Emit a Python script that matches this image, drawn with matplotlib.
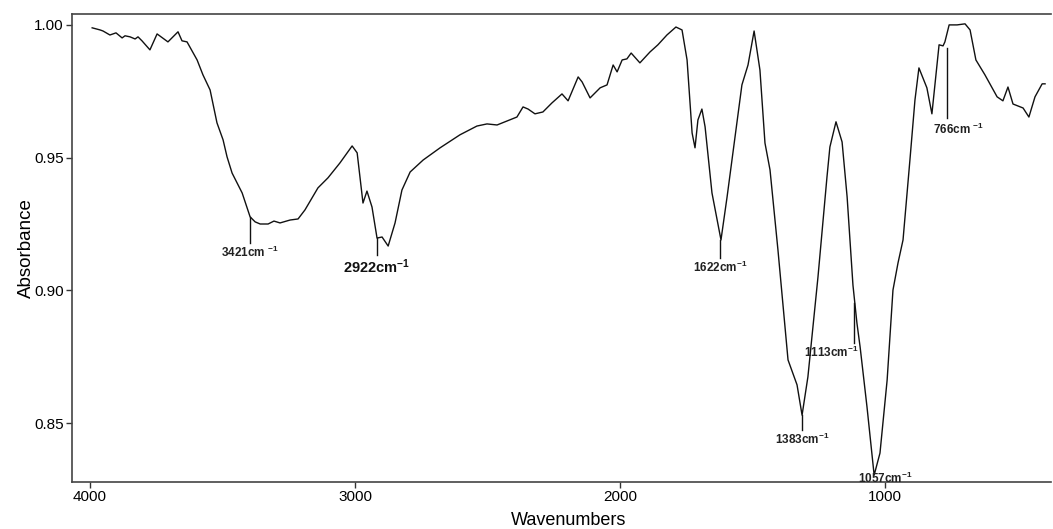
import numpy as np
import matplotlib.pyplot as plt
from matplotlib.ticker import FormatStrFormatter

plt.rcParams['font.family'] = ['Liberation Sans', 'DejaVu Sans']
plt.rcParams['mathtext.default'] = 'regular'

# spectrum
wn = [3992, 3962, 3951, 3925, 3902, 3879, 3868, 3849, 3830, 3819, 3804, 3774,
      3747, 3706, 3668, 3653, 3634, 3596, 3574, 3547, 3521, 3498, 3483, 3464,
      3426, 3396, 3377, 3358, 3328, 3306, 3283, 3245, 3215, 3189, 3140, 3102,
      3057, 3011, 2992, 2970, 2955, 2936, 2917, 2898, 2875, 2849, 2823, 2792,
      2743, 2679, 2604, 2540, 2502, 2464, 2426, 2389, 2366, 2347, 2321, 2291,
      2257, 2219, 2196, 2158, 2143, 2113, 2075, 2049, 2026, 2011, 1992, 1974,
      1958, 1925, 1887, 1857, 1823, 1789, 1766, 1747, 1728, 1717, 1706, 1691,
      1679, 1653, 1619, 1596, 1566, 1540, 1517, 1494, 1472, 1453, 1434, 1404,
      1366, 1332, 1313, 1291, 1253, 1219, 1208, 1185, 1162, 1143, 1121, 1106,
      1094, 1068, 1041, 1019, 992, 970, 951, 932, 906, 887, 872, 842, 823, 811,
      796, 781, 774, 758, 728, 698, 679, 657, 623, 577, 555, 536, 517, 479,
      457, 434, 407, 396]
absorb = [0.9989, 0.9981, 0.9977, 0.9962, 0.9970, 0.9951, 0.9959, 0.9955,
          0.9947, 0.9955, 0.9940, 0.9906, 0.9966, 0.9936, 0.9974, 0.9940,
          0.9936, 0.9868, 0.9812, 0.9755, 0.9631, 0.9567, 0.9503, 0.9442,
          0.9367, 0.9277, 0.9258, 0.9250, 0.9250, 0.9261, 0.9254, 0.9265,
          0.9269, 0.9303, 0.9386, 0.9424, 0.9480, 0.9544, 0.9518, 0.9329,
          0.9374, 0.9314, 0.9197, 0.9201, 0.9167, 0.9254, 0.9378, 0.9446,
          0.9491, 0.9537, 0.9586, 0.9619, 0.9627, 0.9623, 0.9638, 0.9653,
          0.9691, 0.9683, 0.9665, 0.9672, 0.9706, 0.9740, 0.9714, 0.9804,
          0.9785, 0.9725, 0.9763, 0.9774, 0.9849, 0.9823, 0.9868, 0.9872,
          0.9894, 0.9857, 0.9898, 0.9925, 0.9962, 0.9992, 0.9981, 0.9868,
          0.9593, 0.9537, 0.9642, 0.9683, 0.9616, 0.9367, 0.9190, 0.9352,
          0.9578, 0.9774, 0.9849, 0.9977, 0.9830, 0.9555, 0.9454, 0.9152,
          0.8738, 0.8644, 0.8530, 0.8674, 0.9050, 0.9427, 0.9540, 0.9635,
          0.9559, 0.9352, 0.9020, 0.8877, 0.8787, 0.8561, 0.8304, 0.8387,
          0.8662, 0.9001, 0.9103, 0.9190, 0.9491, 0.9717, 0.9838, 0.9763,
          0.9665, 0.9781, 0.9925, 0.9921, 0.9936, 1.0000, 1.0000, 1.0004,
          0.9981, 0.9868, 0.9812, 0.9729, 0.9714, 0.9766, 0.9702, 0.9687,
          0.9653, 0.9729, 0.9778, 0.9778]

# peak marks: label, x of mark, top and bottom of mark
peak_labels = ['3421cm $^{-1}$', '2922cm$^{-1}$', '1622cm$^{-1}$',
               '1383cm$^{-1}$', '1113cm$^{-1}$', '766cm $^{-1}$']
peak_x = [3396, 2917, 1621, 1313, 1117, 766]
peak_top = [0.9277, 0.9197, 0.9190, 0.8530, 0.8952, 0.9913]
peak_bot = [0.9179, 0.9133, 0.9122, 0.8474, 0.8802, 0.9650]

fig = plt.figure(figsize=(10.53, 5.29), dpi=100)
ax = fig.add_axes([0.0684, 0.0888, 0.9296, 0.8847])

ax.plot(wn, absorb, color='#111111', lw=1.0)

for lab, x, y0, y1 in zip(peak_labels, peak_x, peak_top, peak_bot):
    ax.plot([x, x], [y0, y1], color='#111111', lw=1.0)

ax.text(3396, 0.9170, peak_labels[0], ha='center', va='top', fontsize=8.5, fontweight='bold', color='#222222')
ax.text(2917, 0.9125, peak_labels[1], ha='center', va='top', fontsize=10.5, fontweight='bold', color='#111111')
ax.text(1621, 0.9114, peak_labels[2], ha='center', va='top', fontsize=8.5, fontweight='bold', color='#222222')
ax.text(1313, 0.8466, peak_labels[3], ha='center', va='top', fontsize=8.5, fontweight='bold', color='#222222')
ax.text(1100, 0.8768, peak_labels[4], ha='right', va='center', fontsize=8.5, fontweight='bold', color='#222222')
ax.text(820, 0.9635, peak_labels[5], ha='left', va='top', fontsize=8.5, fontweight='bold', color='#222222')
ax.text(1000, 0.8292, '1057cm$^{-1}$', ha='center', va='center', fontsize=8.5, fontweight='bold', color='#222222')

ax.set_xlim(4068, 374)
ax.set_ylim(0.8278, 1.0041)
ax.set_xticks([4000, 3000, 2000, 1000])
ax.set_yticks([0.85, 0.90, 0.95, 1.00])
ax.yaxis.set_major_formatter(FormatStrFormatter('%.2f'))
ax.tick_params(direction='out', length=4, width=1, labelsize=11, color='#333333', pad=2)

for s in ax.spines.values():
    s.set_color('#444444')
    s.set_linewidth(1.2)
ax.spines['right'].set_visible(False)

ax.set_xlabel('Wavenumbers', fontsize=13)
ax.xaxis.set_label_coords(0.507, -0.063)
ax.set_ylabel('Absorbance', fontsize=13.5, labelpad=-1)

fig.savefig('out.png', dpi=100)
